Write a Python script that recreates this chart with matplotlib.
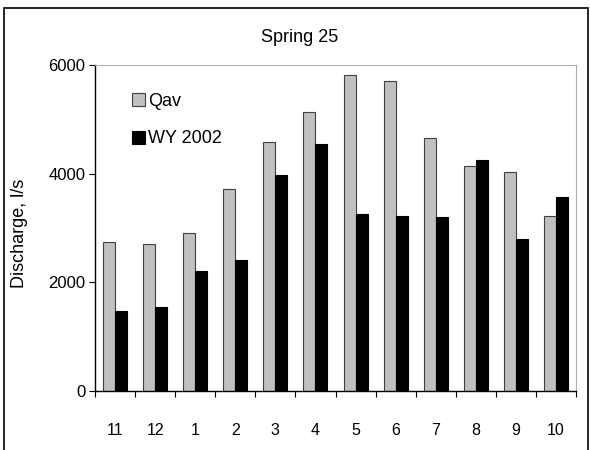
import numpy as np
import matplotlib
matplotlib.use("Agg")
import matplotlib.pyplot as plt
from matplotlib.patches import Rectangle

plt.rcParams['font.family'] = ['Liberation Sans', 'DejaVu Sans']

months = ["11", "12", "1", "2", "3", "4", "5", "6", "7", "8", "9", "10"]
qav = [2735, 2710, 2910, 3710, 4575, 5135, 5815, 5700, 4650, 4135, 4030, 3225]
wy2002 = [1475, 1540, 2200, 2420, 3970, 4550, 3255, 3230, 3205, 4255, 2790, 3565]

fig = plt.figure(figsize=(5.9, 4.5), dpi=100)
ax = fig.add_axes([95/590, 59/450, 481/590, 326/450])

x = np.arange(len(months))
w = 0.3
ax.bar(x - w/2, qav, w, color="#c0c0c0", edgecolor="#404040", linewidth=0.8, label="Qav")
ax.bar(x + w/2, wy2002, w, color="black", edgecolor="black", linewidth=0.8, label="WY 2002")

ax.set_xlim(-0.5, len(months) - 0.5)
ax.set_ylim(0, 6000)
ax.set_yticks([0, 2000, 4000, 6000])
ax.set_xticks(np.arange(-0.5, len(months), 1))
ax.set_xticklabels([])
ax.set_xticks(x, minor=True)
ax.set_xticklabels(months, minor=True)
ax.tick_params(axis="x", which="major", direction="out", length=4, width=0.8)
ax.tick_params(axis="x", which="minor", length=0, pad=23, labelsize=11.5)
ax.tick_params(axis="y", direction="out", length=4, width=0.8, labelsize=12, pad=3)

for s in ["top", "right"]:
    ax.spines[s].set_color("#b0b0b0")
    ax.spines[s].set_linewidth(0.8)
for s in ["left", "bottom"]:
    ax.spines[s].set_linewidth(1.0)

ax.set_ylabel("Discharge, l/s", fontsize=13)
ax.yaxis.set_label_coords(-0.14, 0.485)
fig.text(300/590, (450 - 42)/450, "Spring 25", ha="center", va="baseline", fontsize=13)

ax.legend(loc="upper left", bbox_to_anchor=(0.076, 0.915), frameon=False,
          fontsize=13, handlelength=0.75, handleheight=0.75, handletextpad=0.15,
          labelspacing=1.15, borderaxespad=0, borderpad=0)

fig.patches.append(Rectangle((4/590, -0.01), 584/590, (450 - 8)/450 + 0.01,
                             transform=fig.transFigure, fill=False,
                             edgecolor="black", linewidth=1.2))

fig.savefig("out.png", dpi=100)
